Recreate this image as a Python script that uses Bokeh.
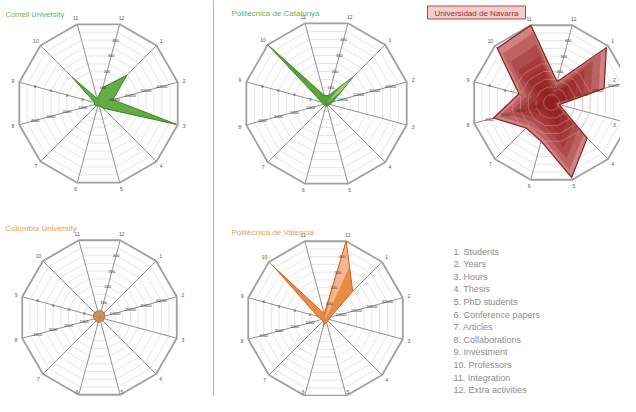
import numpy as np
from bokeh.plotting import figure
from bokeh.models import Range1d
from bokeh.embed import file_html
from bokeh.resources import INLINE
from bokeh.core.properties import value

# ---------------- data ----------------
axis_numbers = ["1", "2", "3", "4", "5", "6", "7", "8", "9", "10", "11", "12"]
legend_items = ["1. Students", "2. Years", "3. Hours", "4. Thesis", "5. PhD students",
                "6. Conference papers", "7. Articles", "8. Collaborations", "9. Investment",
                "10. Professors", "11. Integration", "12. Extra activities"]
titles = ["Cornell University", "Politécnica de Catalunya", "Universidad de Navarra",
          "Columbia University", "Politécnica de Valencia"]

# share of the axis maximum, axes 1..12 (clockwise)
cornell = [0.49, 0.18, 0.98, 0.08, 0.03, 0.03, 0.04, 0.05, 0.05, 0.46, 0.06, 0.2]
catalunya = [0.46, 0.08, 0.04, 0.03, 0.03, 0.03, 0.03, 0.04, 0.06, 1.0, 0.1, 0.1]
navarra = [0.97, 0.68, 0.1, 0.63, 0.97, 0.5, 0.45, 0.75, 0.42, 0.96, 1.0, 0.27]
columbia = [0.08, 0.07, 0.06, 0.06, 0.05, 0.07, 0.06, 0.07, 0.08, 0.09, 0.08, 0.09]
valencia = [0.48, 0.06, 0.04, 0.04, 0.05, 0.08, 0.04, 0.05, 0.1, 0.9, 0.06, 1.0]

ring_levels = [0.1, 0.2, 0.3, 0.4, 0.5, 0.6, 0.7, 0.8, 0.9, 1.0]
tick_levels = [0.2, 0.4, 0.6, 0.8]
ticks_axis12 = ["100", "200", "300", "400"]
ticks_axis2 = ["10000", "20000", "30000", "40000"]
ticks_axis8 = ["1000", "2000", "3000", "4000"]
ticks_axis9 = ["2", "4", "6", "8"]

# ---------------- figure ----------------
p = figure(width=620, height=396, x_range=Range1d(0, 620), y_range=Range1d(396, 0),
           x_axis_type=None, y_axis_type=None, output_backend="svg",
           toolbar_location=None, min_border=0)
p.grid.visible = False
p.outline_line_color = None
p.background_fill_color = "white"

FONT = value("Liberation Sans")
ang = np.deg2rad(45 - 30 * np.arange(12))


def pts(cx, cy, r, vals):
    v = np.asarray(vals, dtype=float)
    return cx + v * r * np.cos(ang), cy - v * r * np.sin(ang)


def grid(cx, cy, r):
    xs, ys = [], []
    for lv in ring_levels[:-1]:
        x, y = pts(cx, cy, r, [lv] * 12)
        xs.append(list(x) + [x[0]])
        ys.append(list(y) + [y[0]])
    p.multi_line(xs, ys, line_color="#dadada", line_width=0.7)
    x, y = pts(cx, cy, r, [1.0] * 12)
    p.multi_line([[cx, xi] for xi in x], [[cy, yi] for yi in y], line_color="#929292", line_width=1)
    p.patch(list(x) + [x[0]], list(y) + [y[0]], fill_color=None, line_color="#a0a0a0", line_width=1.8)


def labels(cx, cy, r):
    x, y = pts(cx, cy, r * 1.08, [1.0] * 12)
    x = np.minimum(x, 614)
    y = np.minimum(y, 391)
    p.text(x, y, text=axis_numbers, text_font=FONT, text_font_size="5px", text_color="#555555",
           text_align="center", text_baseline="middle")
    for idx, tl in ((11, ticks_axis12), (1, ticks_axis2), (7, ticks_axis8), (8, ticks_axis9)):
        tx = [cx + lv * r * np.cos(ang[idx]) for lv in tick_levels]
        ty = [cy - lv * r * np.sin(ang[idx]) for lv in tick_levels]
        p.text(tx, ty, text=tl, text_font=FONT, text_font_size="4px", text_color="#333333",
               text_align="center", text_baseline="middle")


def petals(cx, cy, r, vals, colors, alpha=1.0):
    x, y = pts(cx, cy, r, vals)
    xs, ys = [], []
    for i in range(12):
        j, k = (i - 1) % 12, (i + 1) % 12
        xs.append([cx, (x[j] + x[i]) / 2, x[i], (x[i] + x[k]) / 2])
        ys.append([cy, (y[j] + y[i]) / 2, y[i], (y[i] + y[k]) / 2])
    p.patches(xs, ys, fill_color=colors, line_color=colors, line_width=0.4,
              fill_alpha=alpha, line_alpha=alpha)
    return x, y


def outline(x, y, color, width=1.0):
    p.patch(list(x) + [x[0]], list(y) + [y[0]], fill_color=None, line_color=color, line_width=width)


def scaled(cx, cy, r, vals, s, color, alpha):
    x, y = pts(cx, cy, r * s, vals)
    p.patch(list(x), list(y), fill_color=color, fill_alpha=alpha, line_color=None)


# divider
p.line([213, 213], [0, 396], line_color="#b4b4b4", line_width=1)

# Cornell
c = (98, 103, 82)
grid(*c)
x, y = petals(*c, cornell, ["#5aaa3a"] * 12, 0.95)
outline(x, y, "#3f8a26", 1.0)
labels(*c)
p.text([5], [14], text=[titles[0]], text_font=FONT, text_font_size="7.5px",
       text_color="#62b845", text_baseline="middle")

# Catalunya
c = (326, 103, 83)
grid(*c)
cols = ["#a9cf74"] + ["#4f9e2e"] * 11
x, y = petals(*c, catalunya, cols, 0.95)
outline(x, y, "#3f8a26", 0.9)
labels(*c)
p.text([231], [13], text=[titles[1]], text_font=FONT, text_font_size="8px",
       text_color="#62b845", text_baseline="middle")

# Navarra
c = (551, 102, 80)
grid(*c)
x, y = petals(*c, navarra, ["#d08282"] * 12, 1.0)
for s in (0.9, 0.75, 0.6, 0.45, 0.3, 0.15):
    scaled(*c, navarra, s, "#8a1010", 0.27)
rx, ry = [], []
for lv in ring_levels[:5]:
    xx, yy = pts(c[0], c[1], c[2], [lv] * 12)
    rx.append(list(xx) + [xx[0]])
    ry.append(list(yy) + [yy[0]])
p.multi_line(rx, ry, line_color="#f2a6a6", line_alpha=0.55, line_width=0.8)
outline(x, y, "#8b2020", 1.2)
labels(*c)
p.rect([476], [12], width=98, height=13, fill_color="#f3cdcd", line_color="#b04a4a", line_width=1)
p.text([476], [12.5], text=[titles[2]], text_font=FONT, text_font_size="8px",
       text_color="#9a3030", text_align="center", text_baseline="middle")

# Columbia
c = (99, 317, 80)
grid(*c)
x, y = petals(*c, columbia, ["#c98a4e"] * 12, 0.9)
outline(x, y, "#b0702e", 0.8)
labels(*c)
p.text([5], [228], text=[titles[3]], text_font=FONT, text_font_size="8px",
       text_color="#e8a050", text_baseline="middle")

# Valencia
c = (325, 318, 80)
grid(*c)
cols = ["#e8863a"] * 11 + ["#f4b08c"]
x, y = petals(*c, valencia, cols, 0.95)
outline(x, y, "#d0661c", 1.0)
labels(*c)
p.text([231], [232], text=[titles[4]], text_font=FONT, text_font_size="8px",
       text_color="#e8a050", text_baseline="middle")

# legend list
ly = [251 + 12.6 * i for i in range(len(legend_items))]
p.text([453] * len(legend_items), ly, text=legend_items, text_font=FONT, text_font_size="9px",
       text_color="#8c8c8c", text_baseline="middle")

open("out.html", "w").write(file_html(p, INLINE))
